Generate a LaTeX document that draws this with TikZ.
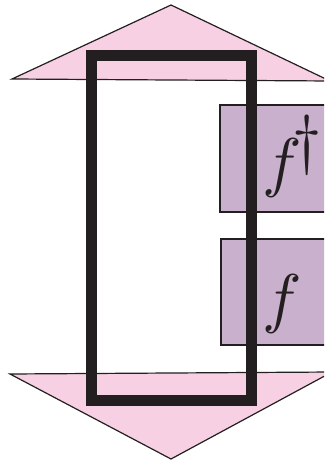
\documentclass[tikz,border=0pt]{standalone}
\usepackage{amsmath,amssymb}
\usepackage{graphicx}
\usepackage{xcolor}
\usepackage{tikz}
\definecolor{roze}{RGB}{248,208,227}
\definecolor{paars}{RGB}{201,176,204}
\definecolor{inkt}{RGB}{35,31,32}

\begin{document}
\begin{tikzpicture}[x=1pt, y=-1pt, every node/.style={inner sep=0pt, text=inkt}]
    \useasboundingbox (0,0) rectangle (324,462);
    \clip (0,0) rectangle (324,462);
    % bovenste en onderste driehoek
    \draw[inkt, line width=1.2pt, fill=roze, line join=miter] (12,79) -- (171,5) -- (330,81) -- cycle;
    \draw[inkt, line width=1.2pt, fill=roze, line join=miter] (10,374) -- (171,459) -- (332,372) -- cycle;
    % de twee dozen
    \draw[inkt, line width=1.2pt, fill=paars] (220,105) rectangle (340,212);
    \draw[inkt, line width=1.2pt, fill=paars] (221,239) rectangle (340,345);
    \node[anchor=base west] (fdag) at (262,185) {\scalebox{6.6}{$f^{\!\textstyle\dagger}$}};
    \node[anchor=base west] (f) at (262,320) {\scalebox{6.6}{$f$}};
    % dikke lus
    \draw[inkt, line width=11pt, line join=miter] (91.5,55.5) rectangle (251.5,400.5);
  \end{tikzpicture}
\end{document}
